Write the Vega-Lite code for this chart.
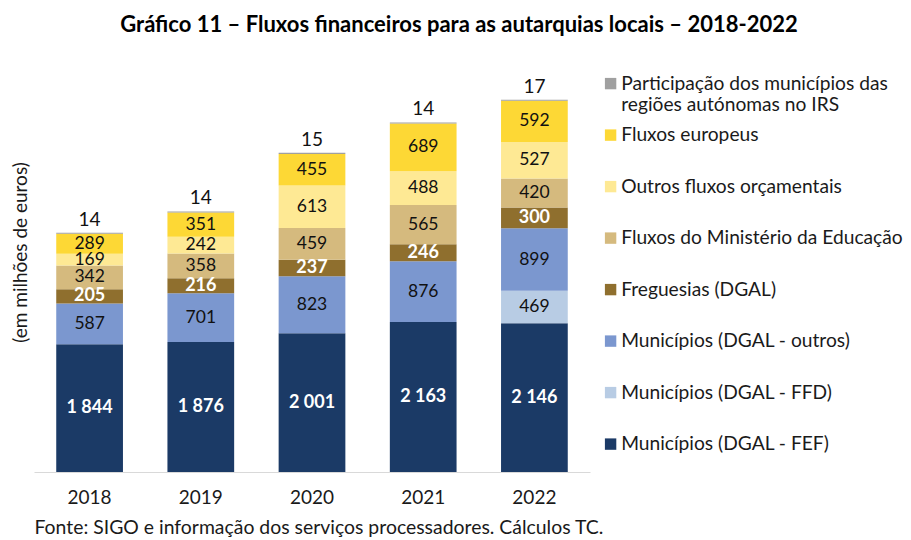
{
  "$schema": "https://vega.github.io/schema/vega-lite/v6.json",
  "autosize": {"type": "none"},
  "width": 556,
  "height": 416,
  "padding": {"left": 34, "top": 56, "right": 321, "bottom": 68},
  "background": "white",
  "config": {
    "font": "Lato",
    "view": {"stroke": null},
    "locale": {"number": {"decimal": ",", "thousands": " ", "grouping": [3], "currency": ["", " €"]}}
  },
  "title": {
    "text": "Gráfico 11 – Fluxos financeiros para as autarquias locais – 2018-2022",
    "font": "Lato",
    "fontSize": 22,
    "fontWeight": "bold",
    "color": "black",
    "anchor": "middle",
    "dx": 147,
    "offset": 19
  },
  "data": {
    "values": [
      {"ano": "2018", "serie": "Municípios (DGAL - FEF)", "ordem": 1, "valor": 1844},
      {"ano": "2018", "serie": "Municípios (DGAL - FFD)", "ordem": 2, "valor": 0},
      {"ano": "2018", "serie": "Municípios (DGAL - outros)", "ordem": 3, "valor": 587},
      {"ano": "2018", "serie": "Freguesias (DGAL)", "ordem": 4, "valor": 205},
      {"ano": "2018", "serie": "Fluxos do Ministério da Educação", "ordem": 5, "valor": 342},
      {"ano": "2018", "serie": "Outros fluxos orçamentais", "ordem": 6, "valor": 169},
      {"ano": "2018", "serie": "Fluxos europeus", "ordem": 7, "valor": 289},
      {"ano": "2018", "serie": "Participação dos municípios das regiões autónomas no IRS", "ordem": 8, "valor": 14},
      {"ano": "2019", "serie": "Municípios (DGAL - FEF)", "ordem": 1, "valor": 1876},
      {"ano": "2019", "serie": "Municípios (DGAL - FFD)", "ordem": 2, "valor": 0},
      {"ano": "2019", "serie": "Municípios (DGAL - outros)", "ordem": 3, "valor": 701},
      {"ano": "2019", "serie": "Freguesias (DGAL)", "ordem": 4, "valor": 216},
      {"ano": "2019", "serie": "Fluxos do Ministério da Educação", "ordem": 5, "valor": 358},
      {"ano": "2019", "serie": "Outros fluxos orçamentais", "ordem": 6, "valor": 242},
      {"ano": "2019", "serie": "Fluxos europeus", "ordem": 7, "valor": 351},
      {"ano": "2019", "serie": "Participação dos municípios das regiões autónomas no IRS", "ordem": 8, "valor": 14},
      {"ano": "2020", "serie": "Municípios (DGAL - FEF)", "ordem": 1, "valor": 2001},
      {"ano": "2020", "serie": "Municípios (DGAL - FFD)", "ordem": 2, "valor": 0},
      {"ano": "2020", "serie": "Municípios (DGAL - outros)", "ordem": 3, "valor": 823},
      {"ano": "2020", "serie": "Freguesias (DGAL)", "ordem": 4, "valor": 237},
      {"ano": "2020", "serie": "Fluxos do Ministério da Educação", "ordem": 5, "valor": 459},
      {"ano": "2020", "serie": "Outros fluxos orçamentais", "ordem": 6, "valor": 613},
      {"ano": "2020", "serie": "Fluxos europeus", "ordem": 7, "valor": 455},
      {"ano": "2020", "serie": "Participação dos municípios das regiões autónomas no IRS", "ordem": 8, "valor": 15},
      {"ano": "2021", "serie": "Municípios (DGAL - FEF)", "ordem": 1, "valor": 2163},
      {"ano": "2021", "serie": "Municípios (DGAL - FFD)", "ordem": 2, "valor": 0},
      {"ano": "2021", "serie": "Municípios (DGAL - outros)", "ordem": 3, "valor": 876},
      {"ano": "2021", "serie": "Freguesias (DGAL)", "ordem": 4, "valor": 246},
      {"ano": "2021", "serie": "Fluxos do Ministério da Educação", "ordem": 5, "valor": 565},
      {"ano": "2021", "serie": "Outros fluxos orçamentais", "ordem": 6, "valor": 488},
      {"ano": "2021", "serie": "Fluxos europeus", "ordem": 7, "valor": 689},
      {"ano": "2021", "serie": "Participação dos municípios das regiões autónomas no IRS", "ordem": 8, "valor": 14},
      {"ano": "2022", "serie": "Municípios (DGAL - FEF)", "ordem": 1, "valor": 2146},
      {"ano": "2022", "serie": "Municípios (DGAL - FFD)", "ordem": 2, "valor": 469},
      {"ano": "2022", "serie": "Municípios (DGAL - outros)", "ordem": 3, "valor": 899},
      {"ano": "2022", "serie": "Freguesias (DGAL)", "ordem": 4, "valor": 300},
      {"ano": "2022", "serie": "Fluxos do Ministério da Educação", "ordem": 5, "valor": 420},
      {"ano": "2022", "serie": "Outros fluxos orçamentais", "ordem": 6, "valor": 527},
      {"ano": "2022", "serie": "Fluxos europeus", "ordem": 7, "valor": 592},
      {"ano": "2022", "serie": "Participação dos municípios das regiões autónomas no IRS", "ordem": 8, "valor": 17}
    ]
  },
  "transform": [
    {"stack": "valor", "groupby": ["ano"], "sort": [{"field": "ordem", "order": "ascending"}], "as": ["y0", "y1"]},
    {"calculate": "(datum.y0 + datum.y1) / 2", "as": "ymid"}
  ],
  "encoding": {
    "x": {
      "field": "ano",
      "type": "nominal",
      "scale": {"paddingInner": 0.4, "paddingOuter": 0.2},
      "axis": {
        "title": "Fonte: SIGO e informação dos serviços processadores. Cálculos TC.",
        "titleFont": "Lato",
        "titleFontSize": 19.4,
        "titleFontWeight": "normal",
        "titleColor": "#1a1a1a",
        "titleAnchor": "start",
        "titleAlign": "left",
        "titlePadding": 11,
        "labelAngle": 0,
        "labelFontSize": 19,
        "labelColor": "#1a1a1a",
        "labelPadding": 16,
        "ticks": false,
        "domainColor": "#d9d9d9",
        "domainWidth": 1
      }
    }
  },
  "layer": [
    {
      "mark": {"type": "bar"},
      "encoding": {
        "y": {
          "field": "y1",
          "type": "quantitative",
          "scale": {"domain": [0, 6000]},
          "axis": {
            "title": "(em milhões de euros)",
            "titleFont": "Lato",
            "titleFontSize": 19,
            "titleFontWeight": "normal",
            "titleColor": "#1a1a1a",
            "titlePadding": 4,
            "titleY": 196,
            "labels": false,
            "ticks": false,
            "grid": false,
            "domain": false
          }
        },
        "y2": {"field": "y0"},
        "color": {
          "field": "serie",
          "type": "nominal",
          "scale": {
            "domain": [
              "Participação dos municípios das regiões autónomas no IRS",
              "Fluxos europeus",
              "Outros fluxos orçamentais",
              "Fluxos do Ministério da Educação",
              "Freguesias (DGAL)",
              "Municípios (DGAL - outros)",
              "Municípios (DGAL - FFD)",
              "Municípios (DGAL - FEF)"
            ],
            "range": ["#a0a0a0", "#fdd835", "#fee994", "#d5ba7e", "#8f6f2e", "#7b97cf", "#b8cce4", "#1b3a66"]
          },
          "legend": {
            "title": null,
            "orient": "none",
            "legendX": 567,
            "legendY": 18,
            "gridAlign": "all",
            "symbolType": "square",
            "symbolSize": 130,
            "symbolStrokeWidth": 0,
            "labelFont": "Lato",
            "labelFontSize": 19.2,
            "labelColor": "#1a1a1a",
            "labelOffset": 1,
            "labelLimit": 400,
            "rowPadding": 10.5,
            "labelExpr": "datum.label == 'Participação dos municípios das regiões autónomas no IRS' ? ['Participação dos municípios das', 'regiões autónomas no IRS'] : datum.label"
          }
        }
      }
    },
    {
      "transform": [{"filter": "datum.valor > 0 && (datum.ordem == 1 || datum.ordem == 4)"}],
      "mark": {"type": "text", "font": "Lato", "fontWeight": "bold", "fontSize": 18, "color": "white", "baseline": "middle"},
      "encoding": {
        "y": {"field": "ymid", "type": "quantitative"},
        "text": {"field": "valor", "type": "quantitative", "format": ","}
      }
    },
    {
      "transform": [{"filter": "datum.valor > 0 && datum.ordem != 1 && datum.ordem != 4 && datum.ordem != 8"}],
      "mark": {"type": "text", "font": "Lato", "fontSize": 17.5, "color": "#111111", "baseline": "middle"},
      "encoding": {
        "y": {"field": "ymid", "type": "quantitative"},
        "text": {"field": "valor", "type": "quantitative", "format": ","}
      }
    },
    {
      "transform": [{"filter": "datum.ordem == 8"}],
      "mark": {"type": "text", "font": "Lato", "fontSize": 19, "color": "#111111", "baseline": "bottom", "dy": -3},
      "encoding": {
        "y": {"field": "y1", "type": "quantitative"},
        "text": {"field": "valor", "type": "quantitative", "format": ","}
      }
    }
  ]
}
